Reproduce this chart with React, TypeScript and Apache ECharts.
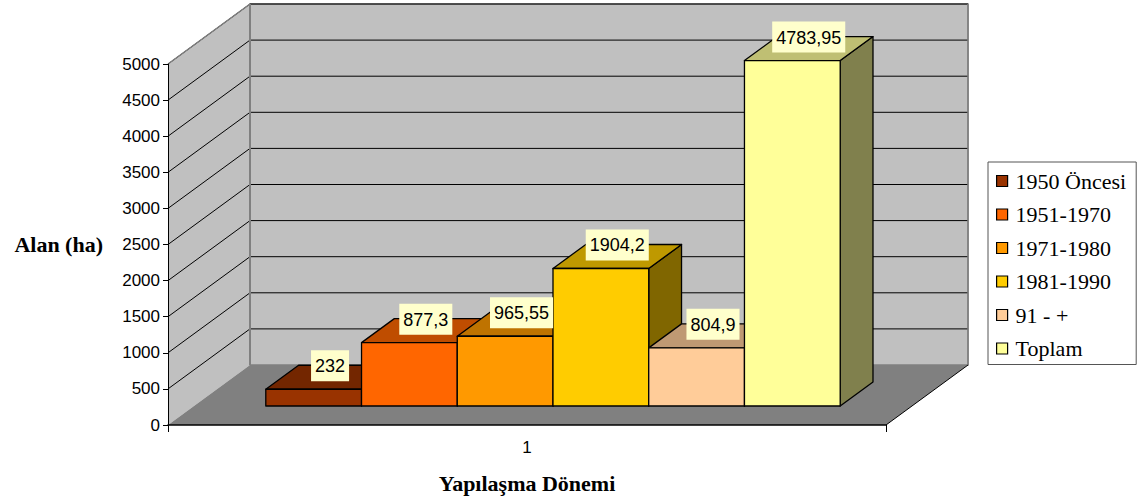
import React, { useEffect, useRef } from "react";
import * as echarts from "echarts";

const categories = ["1"];
const seriesNames = ["1950 Öncesi", "1951-1970", "1971-1980", "1981-1990", "91 - +", "Toplam"];
const seriesValues = [232, 877.3, 965.55, 1904.2, 804.9, 4783.95];
const seriesColors = ["#993300", "#ff6600", "#ff9900", "#ffcc00", "#ffcc99", "#ffff99"];
const yTicks = [0, 500, 1000, 1500, 2000, 2500, 3000, 3500, 4000, 4500, 5000];
const yMin = 0;
const yMax = 5000;
const yInterval = 500;
const xTitle = "Yapılaşma Dönemi";
const yTitle = "Alan (ha)";

// projection of the depth axis (style constants)
const DX = 82;
const DY = -60;
const FRONT = 0.317; // bars start at this fraction of depth
const BDEPTH = 0.4; // bars' depth fraction
const GROUP = 0.8; // fraction of the category band used by bars

const SANS = "'Liberation Sans', Arial, sans-serif";
const SERIF = "'Liberation Serif', 'Times New Roman', serif";

function shade(hex: string, f: number): string {
  const n = parseInt(hex.slice(1), 16);
  const r = Math.round(((n >> 16) & 255) * f);
  const g = Math.round(((n >> 8) & 255) * f);
  const b = Math.round((n & 255) * f);
  return `rgb(${r},${g},${b})`;
}

function fmt(v: number): string {
  return String(v).replace(".", ",");
}

export default function App() {
  const ref = useRef<HTMLDivElement>(null);
  useEffect(() => {
    if (!ref.current) return;
    const chart = echarts.init(ref.current, undefined, { renderer: "svg" });
    const N = seriesNames.length;

    const wallSeries: any = {
      type: "custom",
      name: "__walls",
      z: 1,
      clip: false,
      silent: true,
      data: [[0, 0]],
      renderItem: (params: any, api: any) => {
        const cs = params.coordSys;
        const gx = cs.x;
        const gy = cs.y;
        const gw = cs.width;
        const gh = cs.height;
        const children: any[] = [];
        children.push({
          type: "rect",
          shape: { x: gx + DX, y: gy + DY, width: gw, height: gh },
          style: { fill: "#c0c0c0", stroke: "#808080", lineWidth: 1.5 },
        });
        children.push({
          type: "polygon",
          shape: {
            points: [
              [gx, gy],
              [gx + DX, gy + DY],
              [gx + DX, gy + gh + DY],
              [gx, gy + gh],
            ],
          },
          style: { fill: "#c0c0c0", stroke: "none" },
        });
        children.push({
          type: "polygon",
          shape: {
            points: [
              [gx, gy + gh],
              [gx + gw, gy + gh],
              [gx + gw + DX, gy + gh + DY],
              [gx + DX, gy + gh + DY],
            ],
          },
          style: { fill: "#808080", stroke: "none" },
        });
        yTicks.forEach((t) => {
          if (t === yMin) return;
          const y = api.coord([0, t])[1];
          children.push({
            type: "polyline",
            shape: {
              points: [
                [gx, y],
                [gx + DX, y + DY],
                [gx + gw + DX, y + DY],
              ],
            },
            style: { stroke: "#000", lineWidth: 1, fill: "none" },
          });
        });
        children.push({
          type: "line",
          shape: { x1: gx + DX, y1: gy + DY, x2: gx + DX, y2: gy + gh + DY },
          style: { stroke: "#808080", lineWidth: 2 },
        });
        children.push({
          type: "line",
          shape: { x1: gx + gw + DX, y1: gy + DY, x2: gx + gw + DX, y2: gy + gh + DY },
          style: { stroke: "#808080", lineWidth: 1.5 },
        });
        children.push({
          type: "line",
          shape: { x1: gx, y1: gy, x2: gx + DX, y2: gy + DY },
          style: { stroke: "#808080", lineWidth: 1.5 },
        });
        children.push({
          type: "line",
          shape: { x1: gx + gw, y1: gy + gh, x2: gx + gw + DX, y2: gy + gh + DY },
          style: { stroke: "#000", lineWidth: 1 },
        });
        return { type: "group", children };
      },
    };

    const barSeries = seriesNames.map((name, i) => ({
      type: "custom",
      name,
      z: 2,
      clip: false,
      itemStyle: { color: seriesColors[i], borderColor: "#000", borderWidth: 1 },
      data: [[0, seriesValues[i]]],
      renderItem: (params: any, api: any) => {
        const val = api.value(1);
        const base = api.coord([api.value(0), 0]);
        const top = api.coord([api.value(0), val]);
        const band = api.size([1, 0])[0];
        const groupW = band * GROUP;
        const w = groupW / N;
        const fx = FRONT * DX;
        const fy = FRONT * DY;
        const bx = BDEPTH * DX;
        const by = BDEPTH * DY;
        const xl = base[0] - groupW / 2 + i * w + fx;
        const xr = xl + w;
        const yb = base[1] + fy;
        const yt = top[1] + fy;
        const c = seriesColors[i];
        const edge = { stroke: "#000", lineWidth: 1.3, lineJoin: "round" };
        return {
          type: "group",
          children: [
            {
              type: "polygon",
              shape: {
                points: [
                  [xr, yt],
                  [xr + bx, yt + by],
                  [xr + bx, yb + by],
                  [xr, yb],
                ],
              },
              style: { fill: shade(c, 0.5), ...edge },
            },
            {
              type: "polygon",
              shape: {
                points: [
                  [xl, yt],
                  [xr, yt],
                  [xr + bx, yt + by],
                  [xl + bx, yt + by],
                ],
              },
              style: { fill: shade(c, 0.75), ...edge },
            },
            {
              type: "rect",
              shape: { x: xl, y: yt, width: w, height: yb - yt },
              style: { fill: c, ...edge },
            },
            {
              type: "text",
              z2: 100,
              style: {
                text: fmt(val),
                x: xl + w / 2 + bx / 2,
                y: yt - 8,
                align: "center",
                verticalAlign: "bottom",
                fontSize: 18,
                fontFamily: SANS,
                fill: "#000",
                backgroundColor: "#ffffcc",
                padding: [7, 4, 6, 4],
              },
            },
          ],
        };
      },
    }));

    chart.setOption({
      animation: false,
      backgroundColor: "#ffffff",
      grid: { left: 168, top: 64, width: 718, height: 361, containLabel: false },
      legend: {
        data: seriesNames,
        orient: "vertical",
        left: 988,
        top: 162,
        padding: [8, 10, 5, 8],
        itemGap: 11.5,
        itemWidth: 11,
        itemHeight: 11,
        icon: "rect",
        selectedMode: false,
        borderColor: "#555",
        borderWidth: 1,
        itemStyle: { borderColor: "#000", borderWidth: 1.2 },
        textStyle: {
          fontFamily: SERIF,
          fontSize: 22,
          color: "#000",
          lineHeight: 22,
          padding: [0, 0, 0, 3],
        },
      },
      xAxis: {
        type: "category",
        data: categories,
        z: 10,
        name: xTitle,
        nameLocation: "middle",
        nameGap: 47,
        nameTextStyle: { fontFamily: SERIF, fontWeight: "bold", fontSize: 22, color: "#000" },
        axisLine: { show: true, lineStyle: { color: "#000", width: 1.5 } },
        axisTick: { show: true, length: 7, lineStyle: { color: "#000" } },
        axisLabel: { fontFamily: SANS, fontSize: 17, color: "#000", margin: 14 },
        splitLine: { show: false },
      },
      yAxis: {
        type: "value",
        min: yMin,
        max: yMax,
        interval: yInterval,
        z: 10,
        name: yTitle,
        nameLocation: "middle",
        nameRotate: 0,
        nameGap: 65,
        nameTextStyle: { fontFamily: SERIF, fontWeight: "bold", fontSize: 22, color: "#000" },
        axisLine: { show: true, lineStyle: { color: "#000", width: 1 } },
        axisTick: { show: true, length: 5, lineStyle: { color: "#000" } },
        axisLabel: {
          fontFamily: SANS,
          fontSize: 17,
          color: "#000",
          margin: 8,
          formatter: (v: number) => String(v),
        },
        splitLine: { show: false },
      },
      series: [wallSeries, ...barSeries],
    });
    return () => chart.dispose();
  }, []);
  return (
    <div
      ref={ref}
      style={{ position: "fixed", left: 0, top: 0, width: 1137, height: 501, background: "#fff" }}
    />
  );
}
